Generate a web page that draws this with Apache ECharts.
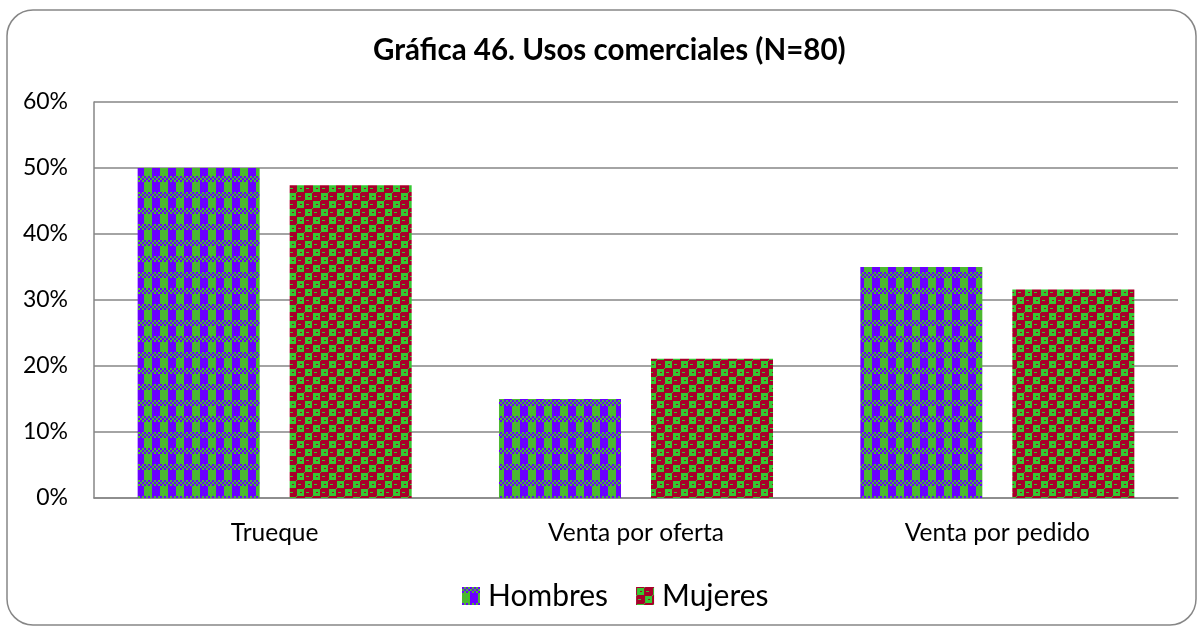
<!DOCTYPE html>
<html>
<head>
<meta charset="utf-8">
<script src="https://cdn.jsdelivr.net/npm/echarts@6/dist/echarts.min.js"></script>
<style>
  html, body { margin: 0; padding: 0; background: #fff; }
  #chart { width: 1202px; height: 630px; }
</style>
</head>
<body>
<div id="chart"></div>
<script>
// Chart data
const categories = ['Trueque', 'Venta por oferta', 'Venta por pedido'];
const hombres = [50.0, 15.0, 35.0];
const mujeres = [47.4, 21.1, 31.6];
const seriesNames = ['Hombres', 'Mujeres'];
const yTicks = { min: 0, max: 60, interval: 10 };

const FONT = 'Lato, "Open Sans", sans-serif';

// Blue/green tile: fine checker band above wide alternating blocks
function makeHombresTile() {
  const c = document.createElement('canvas');
  c.width = 16; c.height = 16;
  const g = c.getContext('2d');
  const blue = '#6a00ff', green = '#4cb830';
  g.fillStyle = green; g.fillRect(0, 0, 16, 16);
  for (let y = 0; y < 6; y += 2) {
    for (let x = 0; x < 16; x += 2) {
      if (((x + y) / 2) % 2 === 0) { g.fillStyle = blue; g.fillRect(x, y, 2, 2); }
    }
  }
  g.fillStyle = blue;
  g.fillRect(8, 6, 8, 10);
  return c;
}

// Red/green tile: staggered green squares on red
function makeMujeresTile() {
  const c = document.createElement('canvas');
  c.width = 16; c.height = 16;
  const g = c.getContext('2d');
  const red = '#a8002a', green = '#36c832';
  g.fillStyle = red; g.fillRect(0, 0, 16, 16);
  g.fillStyle = green;
  g.fillRect(1, 1, 7, 7);
  g.fillRect(9, 9, 7, 7);
  g.fillRect(10, 4, 3, 1);
  g.fillRect(2, 12, 3, 1);
  g.fillRect(8, 0, 1, 1);
  g.fillRect(0, 8, 1, 1);
  g.fillStyle = red;
  g.fillRect(4, 4, 2, 1);
  g.fillRect(12, 12, 2, 1);
  return c;
}

const chart = echarts.init(document.getElementById('chart'), null, { renderer: 'canvas' });

chart.setOption({
  backgroundColor: '#fff',
  animation: false,
  graphic: [{
    type: 'rect',
    shape: { x: 7, y: 10, width: 1189, height: 615, r: 26 },
    style: { fill: 'none', stroke: '#868686', lineWidth: 1.5 },
    silent: true,
    z: -1
  }],
  title: {
    text: 'Gráfica 46. Usos comerciales (N=80)',
    left: 373,
    top: 35,
    padding: 0,
    textStyle: { fontFamily: FONT, fontWeight: 'bold', fontSize: 29.5, color: '#000' }
  },
  legend: {
    data: seriesNames,
    top: 576,
    left: 457,
    itemWidth: 18,
    itemHeight: 18,
    itemGap: 28,
    icon: 'rect',
    textStyle: { fontFamily: FONT, fontSize: 30, color: '#000', padding: [0, 0, 0, 3] }
  },
  grid: { left: 94, right: 24, top: 102, bottom: 132, containLabel: false },
  xAxis: {
    type: 'category',
    data: categories,
    axisLine: { lineStyle: { color: '#868686', width: 1.5 } },
    axisTick: { show: false },
    axisLabel: { fontFamily: FONT, fontSize: 24.5, color: '#000', margin: 23 }
  },
  yAxis: {
    type: 'value',
    min: yTicks.min,
    max: yTicks.max,
    interval: yTicks.interval,
    axisLine: { show: true, lineStyle: { color: '#868686', width: 1.5 } },
    axisTick: { show: false },
    splitLine: { lineStyle: { color: '#868686', width: 1.5 } },
    axisLabel: {
      fontFamily: FONT, fontSize: 23, color: '#000', margin: 26,
      formatter: v => v + '%'
    }
  },
  series: [
    {
      name: seriesNames[0],
      type: 'bar',
      data: hombres,
      barWidth: 122,
      barGap: '24.6%',
      itemStyle: { color: { image: makeHombresTile(), repeat: 'repeat' } }
    },
    {
      name: seriesNames[1],
      type: 'bar',
      data: mujeres,
      barWidth: 122,
      barGap: '24.6%',
      itemStyle: { color: { image: makeMujeresTile(), repeat: 'repeat' } }
    }
  ]
});
</script>
</body>
</html>
